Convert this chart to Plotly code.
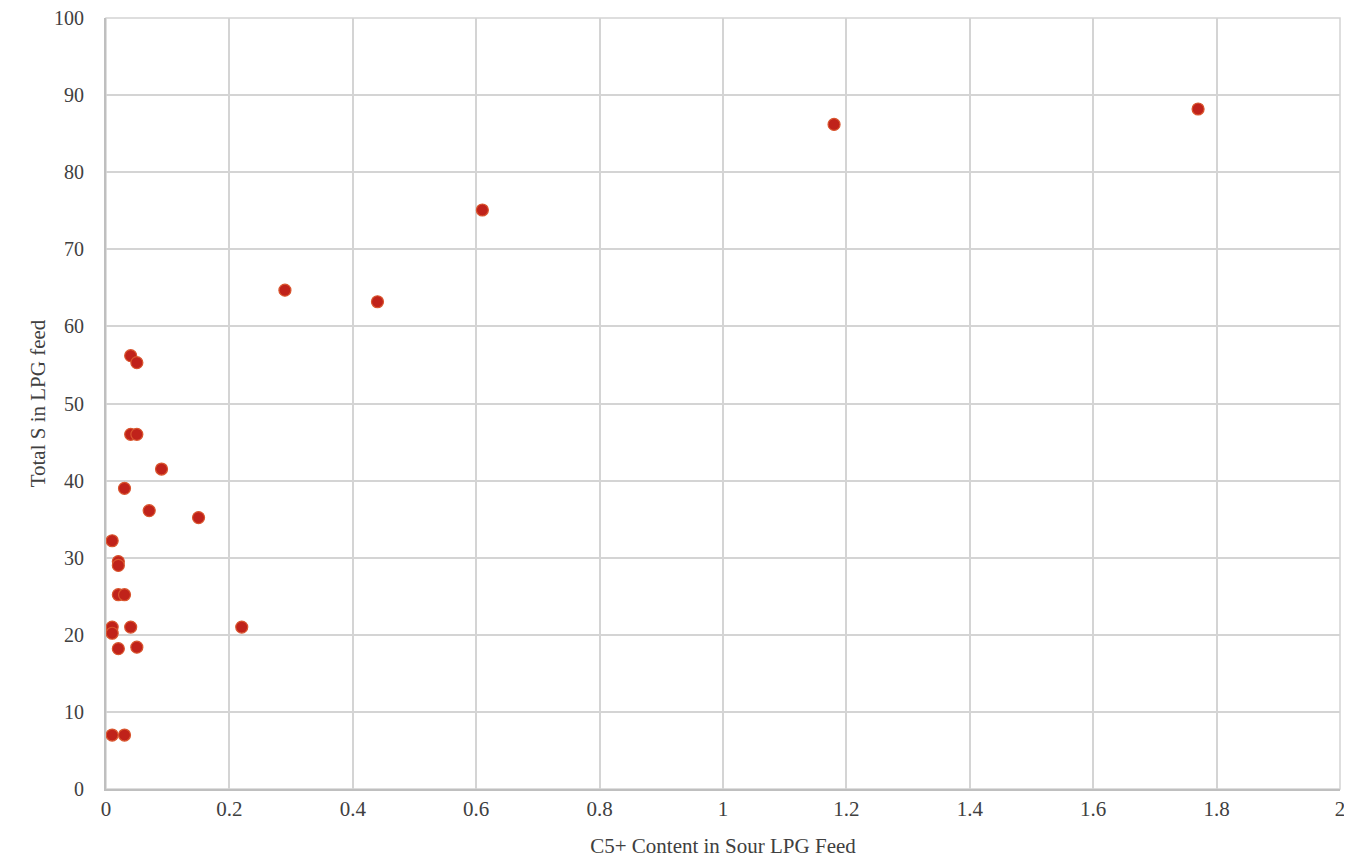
import plotly.graph_objects as go

c5_content = [0.04, 0.05, 0.04, 0.05, 0.09, 0.03, 0.07, 0.15, 0.01, 0.02, 0.02,
              0.02, 0.03, 0.01, 0.01, 0.04, 0.22, 0.02, 0.05, 0.01, 0.03,
              0.29, 0.44, 0.61, 1.18, 1.77]
total_s = [56.2, 55.3, 46.0, 46.0, 41.5, 39.0, 36.1, 35.2, 32.2, 29.5, 29.0,
           25.2, 25.2, 21.0, 20.2, 21.0, 21.0, 18.2, 18.4, 7.0, 7.0,
           64.7, 63.2, 75.1, 86.2, 88.2]

x_ticks = [0, 0.2, 0.4, 0.6, 0.8, 1, 1.2, 1.4, 1.6, 1.8, 2]
x_tick_labels = ["0", "0.2", "0.4", "0.6", "0.8", "1", "1.2", "1.4", "1.6", "1.8", "2"]
y_ticks = [0, 10, 20, 30, 40, 50, 60, 70, 80, 90, 100]

fig = go.Figure(go.Scatter(
    x=c5_content, y=total_s, mode="markers",
    marker=dict(size=12, color="#c0221a", line=dict(color="#d9552e", width=1.2)),
))

tf = dict(family="Liberation Serif, Times New Roman, serif", size=21, color="#404040")
ytf = dict(family="Liberation Serif, Times New Roman, serif", size=20, color="#404040")
fig.update_layout(
    width=1344, height=850,
    margin=dict(l=98, r=12, t=10, b=69),
    paper_bgcolor="white", plot_bgcolor="white",
    showlegend=False,
    font=tf,
    xaxis=dict(range=[0, 2], tickvals=x_ticks, ticktext=x_tick_labels,
               showgrid=True, gridcolor="#d4d4d4", gridwidth=1.5,
               showline=True, linecolor="#bfbfbf", linewidth=2,
               zeroline=False, ticks="", tickfont=tf, automargin=False,
               ticklabeloverflow="allow",
               title=dict(text="C5+ Content in Sour LPG Feed", font=tf, standoff=18)),
    yaxis=dict(range=[0, 100], tickvals=y_ticks,
               showgrid=True, gridcolor="#d4d4d4", gridwidth=1.5,
               showline=True, linecolor="#bfbfbf", linewidth=2,
               zeroline=False, ticks="", ticklabelstandoff=16, tickfont=ytf, automargin=False,
               ticklabeloverflow="allow",
               title=dict(text="Total S in LPG feed", font=tf, standoff=3)),
)
fig.add_shape(type="rect", xref="paper", yref="paper", x0=0, y0=0, x1=1, y1=1,
              line=dict(color="#d4d4d4", width=1.5), layer="below")
fig.write_html("out.html")
